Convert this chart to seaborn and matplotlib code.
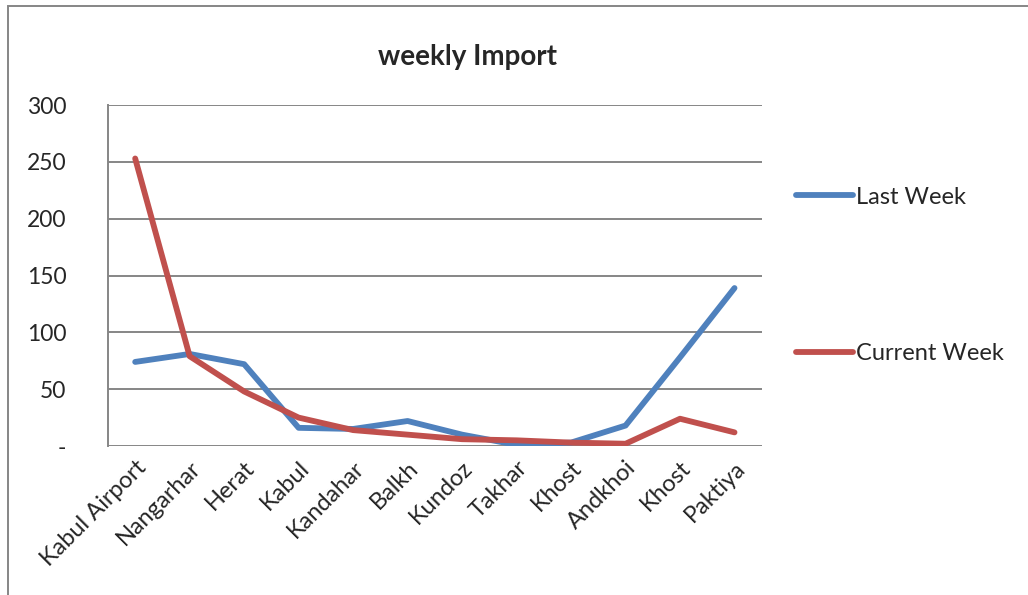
import matplotlib
matplotlib.use("Agg")
import matplotlib.pyplot as plt
import seaborn as sns
import pandas as pd
from matplotlib.patches import Rectangle
from matplotlib.lines import Line2D

# dados
provincias = ['Kabul Airport', 'Nangarhar', 'Herat', 'Kabul', 'Kandahar', 'Balkh',
              'Kundoz', 'Takhar', 'Khost', 'Andkhoi', 'Khost', 'Paktiya']
last_week = [74, 81, 72, 16, 15, 22, 10, 1, 3, 18, 78, 139]
current_week = [253, 79, 48, 25, 14, 10, 6, 5, 3, 2, 24, 12]
series = ['Last Week', 'Current Week']
cores = ['#4F81BD', '#C0504D']
y_ticks = [0, 50, 100, 150, 200, 250, 300]
y_labels = ['-', '50', '100', '150', '200', '250', '300']

df = pd.DataFrame({
    'pos': list(range(len(provincias))) * 2,
    'valor': last_week + current_week,
    'serie': [series[0]] * len(provincias) + [series[1]] * len(provincias),
})

sns.set_style("white")
plt.rcParams['font.family'] = ['Lato', 'DejaVu Sans']

fig = plt.figure(figsize=(10.28, 5.95), dpi=100)
ax = fig.add_axes([0.105, 0.2504, 0.636, 0.573])

sns.lineplot(data=df, x='pos', y='valor', hue='serie', hue_order=series,
             palette=cores, linewidth=4.2, ax=ax, legend=False,
             solid_capstyle='round', solid_joinstyle='round')

ax.set_xlim(-0.5, len(provincias) - 0.5)
ax.set_ylim(0, 300)
ax.set_yticks(y_ticks)
ax.set_yticklabels(y_labels, fontsize=16.5)
ax.set_xticks(range(len(provincias)))
ax.set_xticklabels(provincias, rotation=45, ha='right', rotation_mode='anchor', fontsize=17)
ax.tick_params(axis='x', length=0, pad=8)
ax.tick_params(axis='y', length=0, pad=30)
ax.set_xlabel('')
ax.set_ylabel('')

ax.grid(axis='y', color='#868686', linewidth=1.4)
ax.set_axisbelow(True)
for s in ['top', 'right', 'bottom']:
    ax.spines[s].set_visible(False)
ax.spines['left'].set_color('#868686')
ax.spines['left'].set_linewidth(1.4)

# legenda manual
handles = [Line2D([0], [0], color=c, linewidth=4.2, solid_capstyle='round') for c in cores]
fig.legend(handles, series, loc='upper left', bbox_to_anchor=(0.763, 0.706),
           frameon=False, fontsize=17, labelspacing=5.75, handlelength=2.4,
           handletextpad=0.15, borderpad=0)

fig.text(0.455, 0.905, 'weekly Import', ha='center', va='center', fontsize=20, fontweight='bold')

fig.patches.append(Rectangle((0.008, -0.05), 1.2, 1.04, transform=fig.transFigure,
                             fill=False, edgecolor='#868686', linewidth=1.4))

fig.savefig('out.png', dpi=100)
